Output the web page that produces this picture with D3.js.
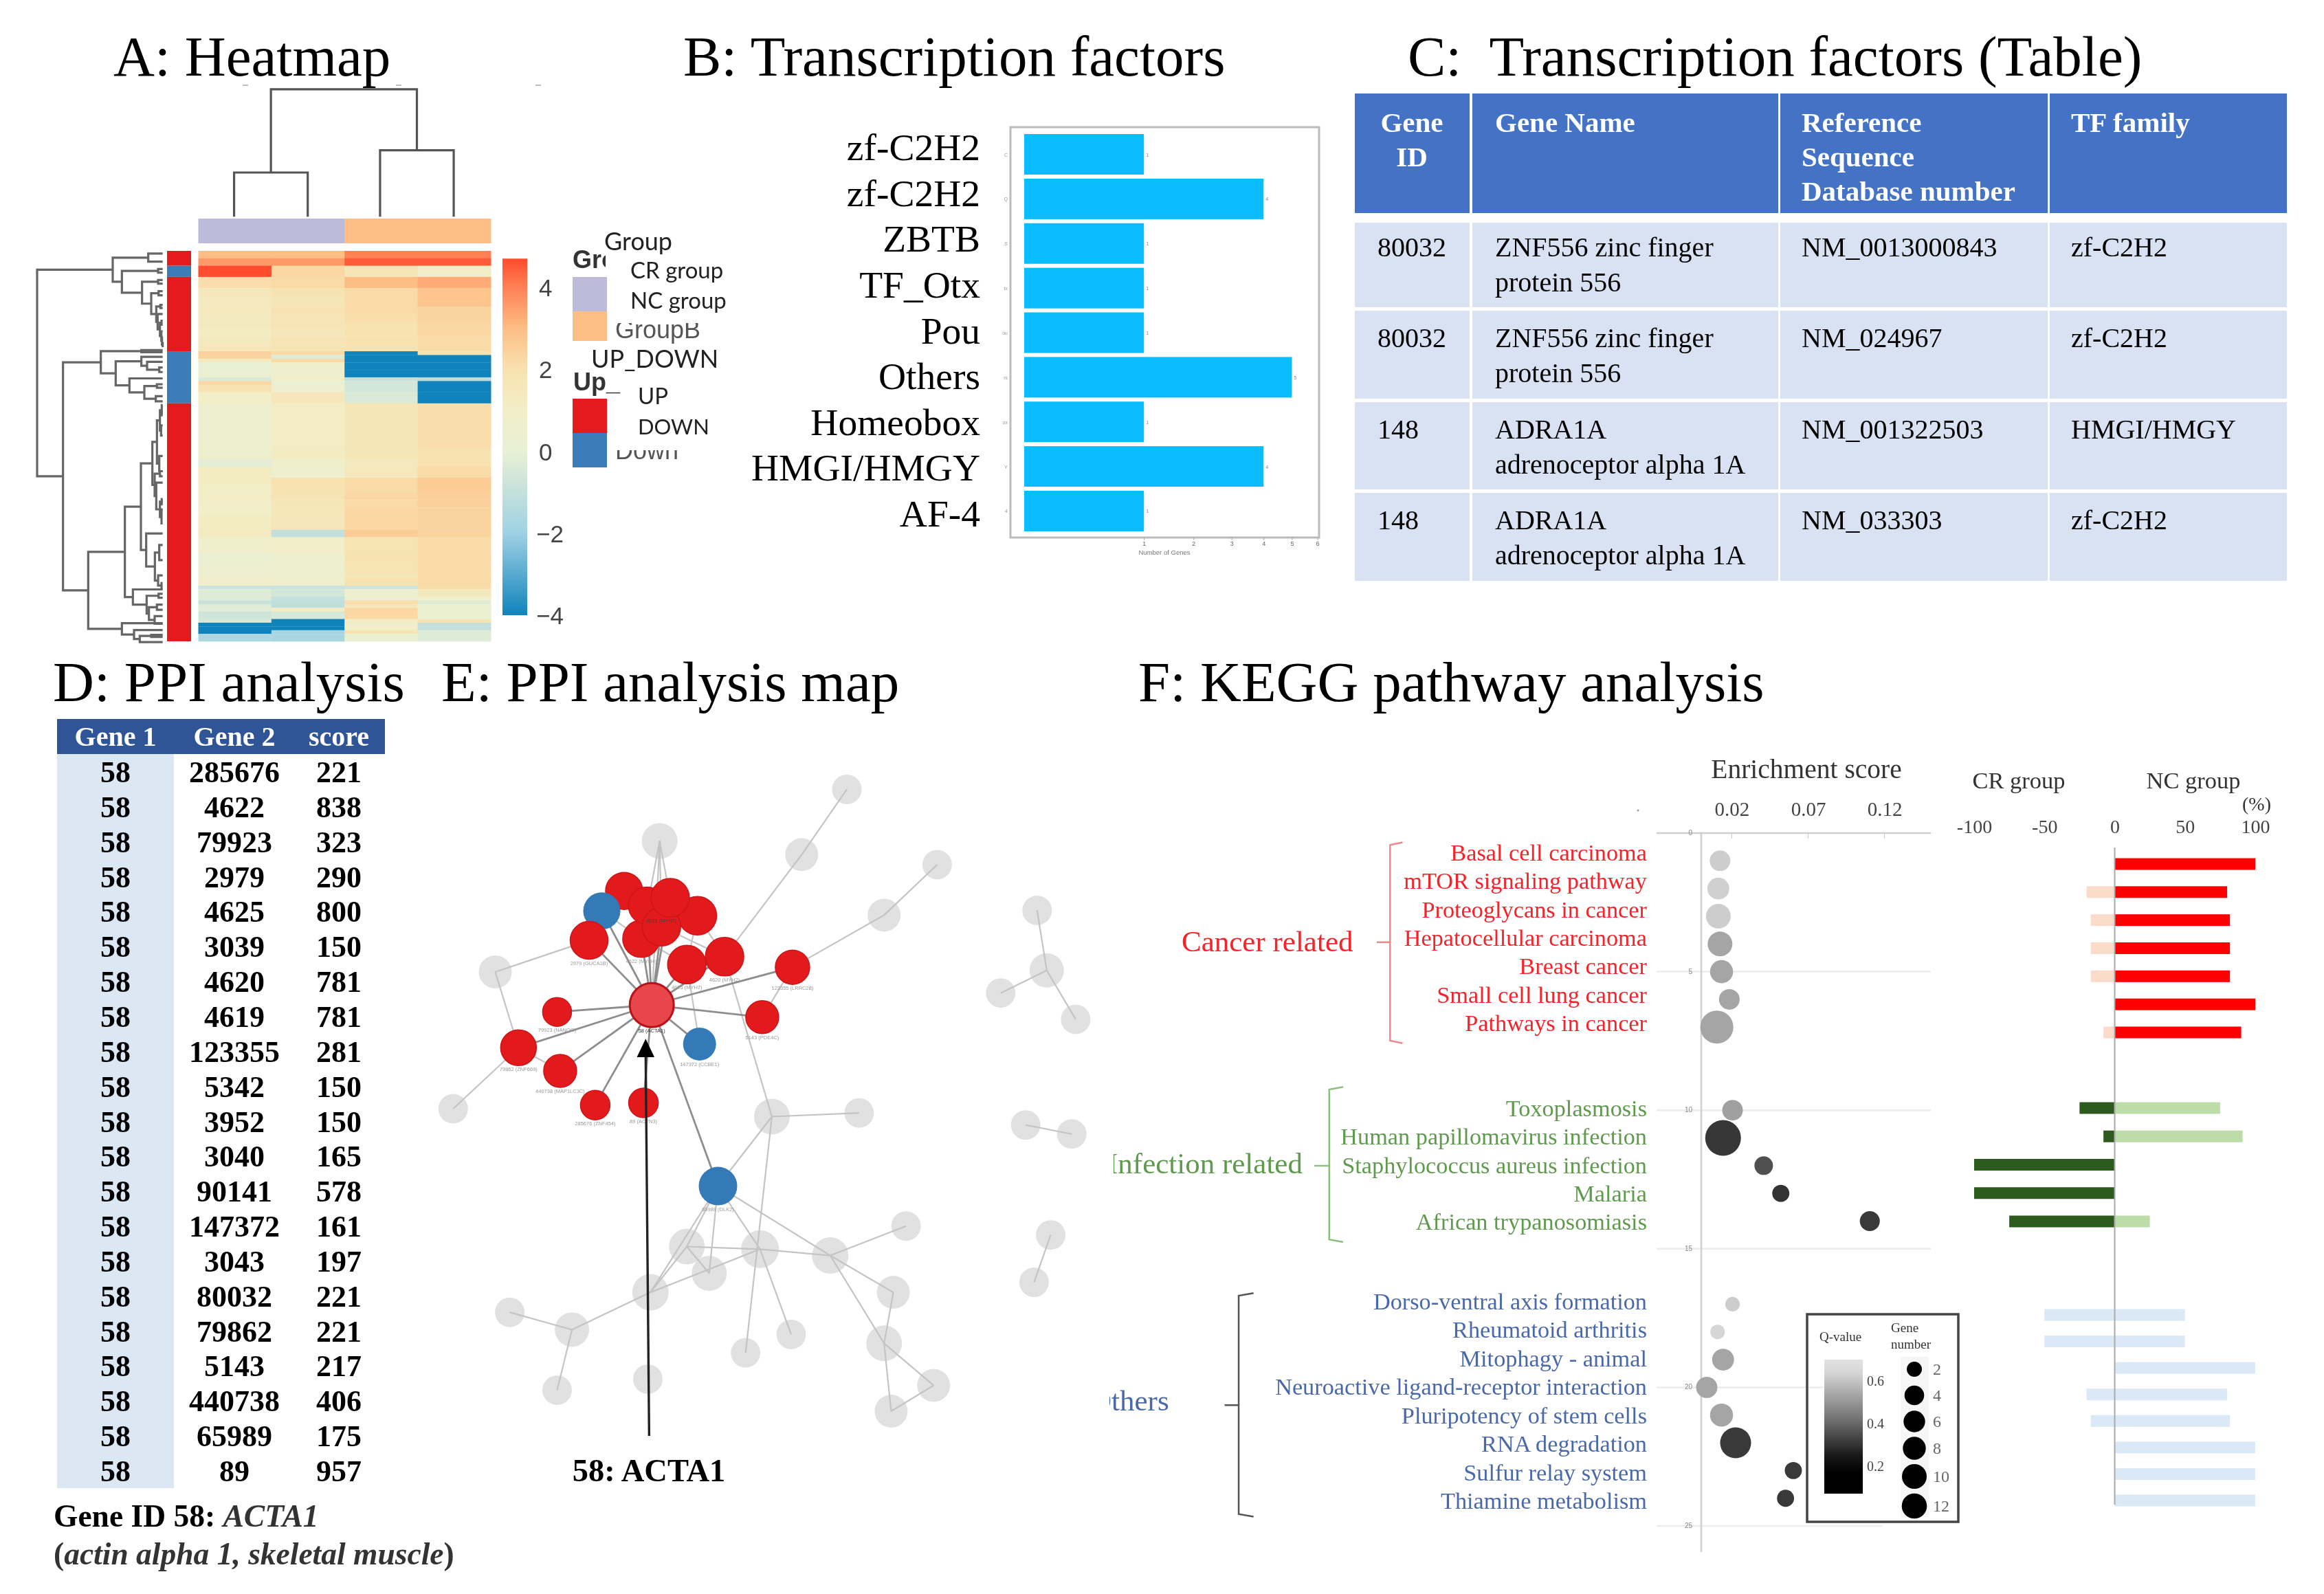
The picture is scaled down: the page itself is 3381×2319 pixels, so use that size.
<!DOCTYPE html>
<html><head><meta charset="utf-8">
<script src="https://cdn.jsdelivr.net/npm/d3@7"></script>
<style>html,body{margin:0;background:#fff}svg{display:block;filter:blur(0.6px)}text{white-space:pre}</style>
</head><body><svg id="c" width="3381" height="2319" xmlns="http://www.w3.org/2000/svg"></svg>
<script>
const SERIF='"Liberation Serif","Times New Roman",serif', SANS='"Liberation Sans",Arial,sans-serif', LATO='Lato,"Noto Sans",sans-serif';
// ---------- titles
const titles=[["A: Heatmap",165],["B: Transcription factors",994],["C:  Transcription factors (Table)",2048]];
const titles2=[["D: PPI analysis",77],["E: PPI analysis map",642],["F: KEGG pathway analysis",1656]];
// ---------- A heatmap: [rows spanned, col1, col2, col3, col4]
const heatRows=[[2,3.0,3.0,4.0,4.0],[2,3.6,3.6,4.5,4.5],[3,4.7,2.3,1.7,1.0],[3,2.1,2.2,3.0,3.3],[2,1.6,1.9,2.2,2.8],[3,1.4,1.7,2.2,2.8],
[2,1.5,1.9,2.2,2.4],[2,1.3,1.7,2.1,2.4],[2,1.4,1.8,2.0,2.3],[2,1.2,1.6,2.0,2.3],[2,1.4,1.8,2.0,2.2],[2,1.6,1.8,2.0,2.2],
[1,2.5,2.2,-4,2.0],[1,2.4,-0.3,-4,-4],[1,1.3,2.2,-4,-4],[2,0.1,0.8,-4,-4],[2,0.3,0.5,-4,-4],[1,-0.4,1.0,-1.0,-1.2],[1,2.3,0.0,-0.6,-4],[2,1.9,0.4,-0.6,-4],[3,1.0,1.6,-0.4,-4],
[12,0.5,1.1,1.7,2.1],[3,0.6,1.2,1.7,2.0],[2,-0.1,0.7,1.4,2.0],[3,1.2,0.6,1.5,2.2],
[2,1.2,2.0,2.2,2.6],[2,1.0,1.9,2.2,2.6],[2,1.1,1.8,2.3,2.5],[2,0.9,1.7,2.2,2.5],[2,1.0,1.7,2.3,2.4],[4,1.2,1.6,2.3,2.4],
[2,1.3,-1.0,2.6,2.4],[4,0.8,0.9,1.8,2.2],[3,0.3,0.6,1.9,2.2],[3,0.4,0.5,1.8,2.2],[1,0.5,0.5,1.6,2.2],[2,0.9,0.7,2.0,2.2],[1,-0.8,-0.8,-0.7,2.1],[2,-0.3,-0.6,0.5,1.4],
[1,-0.3,-1.0,0.4,1.0],[1,-0.9,-1.1,2.1,-0.3],[1,-0.3,-1.1,1.6,0.2],[1,-0.2,1.1,2.3,0.3],[2,-0.7,-0.5,2.3,0.2],[1,-0.5,-4,1.1,1.8],[1,-4,-4,0.8,-1.0],[1,-4,-4,0.9,-1.0],[1,-4,-1.8,1.8,-0.3],[2,-1.6,-1.7,0.3,-0.3]];
const rowSides=[[4,"UP"],[3,"DOWN"],[20,"UP"],[14,"DOWN"],[64,"UP"]];
const columnGroups=["CR","CR","NC","NC"];
const heatTicks=[4,2,0,-2,-4];
const colTree=[212,[410,534,702],[357,867,1035]];
const treeTop=[372,[527,24,56],[412,[570,85,99],[500,[570,128,142],[540,[572,172,188],[562,[580,226,238],[568,262,[578,[585,288,304],[584,330,[587,352,[590,372,392]]]]]]]]]];
const treeDown=[320,[497,404,412],[385,[497,430,[522,450,[575,472,490]]],[445,515,[510,[565,538,552],[560,585,605]]]]];
const treeUpA=[495,[545,[565,[578,[586,620,660],[583,700,740]],[575,820,880]],[555,[578,880,900],[562,925,[570,[578,[586,990,1010],[585,1035,1085]],1030]]]],[518,1125,[556,[575,1170,1230],[570,1290,[585,1320,1340]]]]];
const treeUpB=[460,1345,[520,[572,1362,1378],[530,[565,1405,1425],[555,1450,1480]]]];
const treeUpC=[412,1478,[465,1505,[490,[540,1524,1532],1552]]];
const rowTree=[42,treeTop,[155,treeDown,[265,[425,treeUpA,treeUpB],treeUpC]]];
// ---------- B bars
const tfNames=["zf-C2H2","zf-C2H2","ZBTB","TF_Otx","Pou","Others","Homeobox","HMGI/HMGY","AF-4"];
const tfCounts=[1,4,1,1,1,5,1,4,1];
const tfShort=["C","Q","S","tx","ou","rs","ox","Y","4"];
const tfTicks=[1,2,3,4,5,6];
// ---------- C table
const tableHead=[["Gene","ID"],["Gene Name"],["Reference","Sequence","Database number"],["TF family"]];
const tableRows=[[["80032"],["ZNF556 zinc finger","protein 556"],["NM_0013000843"],["zf-C2H2"]],
[["80032"],["ZNF556 zinc finger","protein 556"],["NM_024967"],["zf-C2H2"]],
[["148"],["ADRA1A","adrenoceptor alpha 1A"],["NM_001322503"],["HMGI/HMGY"]],
[["148"],["ADRA1A","adrenoceptor alpha 1A"],["NM_033303"],["zf-C2H2"]]];
// ---------- D table
const ppiHead=["Gene 1","Gene 2","score"];
const ppiGene2=[285676,4622,79923,2979,4625,3039,4620,4619,123355,5342,3952,3040,90141,147372,3043,80032,79862,5143,440738,65989,89];
const ppiScore=[221,838,323,290,800,150,781,781,281,150,150,165,578,161,197,221,221,217,406,175,957];
// ---------- E network (layout units)
const grayNodes=[["g1",991,194,21.5],["g2",564,292,26],["g3",888,318,24],["g4",1197,337,21.5],["g5",1076,433,24],["g6",1425,424,21.5],["g7",1447,538,25],["g8",1342,581,21.5],["g9",1513,631,21.5],["g10",189,541,24],["g11",93,801,21.5],["g12",820,816,26],["g13",1019,809,21.5],["g14",1399,832,21.5],["g15",1504,849,21.5],["g16",1126,1024,21.5],["g17",1456,1041,21.5],["g18",1418,1131,21.5],["g19",626,1063,26],["g20",793,1068,27.5],["g21",953,1080,26.5],["g22",677,1114,25.5],["g23",1097,1150,24],["g24",543,1150,26.5],["g25",222,1188,21.5],["g26",364,1221,25],["g27",1076,1247,26],["g28",864,1230,21.5],["g29",760,1265,21.5],["g30",537,1315,21.5],["g31",330,1336,21.5],["g32",1189,1327,24],["g33",1092,1376,24]];
const colorNodes=[["r1",483,387,27,"up"],["b1",432,425,27,"down"],["r7",403,481,27.5,"up"],["r5",522,478,27,"up"],["r2",535,415,27,"up"],["r4",650,434,28,"up"],["r6",568,455,28,"up"],["r3",588,400,28,"up"],["r9",712,512,28,"up"],["r8",626,527,28,"up"],["r10",867,532,25,"up"],["r11",330,617,21,"up"],["r12",798,627,24,"up"],["r13",242,685,26,"up"],["r14",337,729,24,"up"],["r15",417,794,21.5,"up"],["r16",527,790,21.5,"up"],["b2",655,678,24,"down"],["b3",697,948,28,"down"]];
const hubNode=["hub",546,604,32];
const grayLinks=[["g1","g3"],["g3","r9"],["g4","g5"],["g5","r10"],["g2","r5"],["g2","r6"],["g2","r3"],["g2","hub"],["g10","r7"],["g10","r13"],["r13","g11"],["r13","r14"],["r9","g12"],["g12","g13"],["g12","b3"],["g12","g29"],["r8","b2"],["r10","r12"],["b3","g19"],["b3","g22"],["b3","g20"],["b3","g21"],["b3","g24"],["g19","g20"],["g19","g22"],["g20","g21"],["g20","g24"],["g20","g28"],["g24","g26"],["g26","g25"],["g26","g31"],["g21","g16"],["g21","g23"],["g21","g27"],["g23","g27"],["g27","g32"],["g27","g33"],["g32","g33"],["g6","g7"],["g7","g8"],["g7","g9"],["g14","g15"],["g17","g18"],["g19","g24"],["b1","r7"],["b1","r2"],["b1","r5"],["r5","r8"],["r4","r8"],["r4","r9"],["r6","r9"]];
const hubLinks=["r5","r2","r6","r3","b1","r7","r8","r9","r10","r11","r12","r13","r14","r15","r16","b2","b3"];
const netLabels=[["hub","58 (ACTA1)"],["r7","2979 (GUCA1B)"],["r5","4622 (MYH4)"],["r8","4625 (MYH7)"],["r9","4620 (MYH2)"],["r10","123355 (LRRC28)"],["r11","79923 (NANOG)"],["r12","5143 (PDE4C)"],["r13","79862 (ZNF669)"],["r14","440738 (MAP1LC3C)"],["r15","285676 (ZNF454)"],["r16","89 (ACTN3)"],["b2","147372 (CCBE1)"],["b3","65989 (DLK2)"]];
// ---------- F KEGG
const pwCancer=["Basal cell carcinoma","mTOR signaling pathway","Proteoglycans in cancer","Hepatocellular carcinoma","Breast cancer","Small cell lung cancer","Pathways in cancer"];
const pwInfect=["Toxoplasmosis","Human papillomavirus infection","Staphylococcus aureus infection","Malaria","African trypanosomiasis"];
const pwOther=["Dorso-ventral axis formation","Rheumatoid arthritis","Mitophagy - animal","Neuroactive ligand-receptor interaction","Pluripotency of stem cells","RNA degradation","Sulfur relay system","Thiamine metabolism"];
const rowCancer=[1,2,3,4,5,6,7], rowInfect=[10,11,12,13,14], rowOther=[17,18,19,20,21,22,23,24];
const enrichCancer=[.0123,.0112,.0112,.0123,.0133,.0184,.0102], enrichInfect=[.0205,.0143,.0409,.0521,.1104], enrichOther=[.0205,.0107,.0143,.0036,.0133,.0225,.0603,.0552];
const genesCancer=[8,9,11.5,11.5,10,8,20.5], genesInfect=[8,24,6.5,5.5,7.5], genesOther=[4,4,9,8.5,10,18,5.5,5.5];
const qCancer=[.63,.64,.63,.53,.53,.53,.53], qInfect=[.52,.28,.34,.27,.285], qOther=[.63,.66,.53,.53,.53,.285,.285,.285];
const nrCancer=[100,80,82,82,82,100,90], crCancer=[0,-20,-17,-17,-17,0,-8];
const nrInfect=[75,91,0,0,25], crInfect=[-25,-8,-100,-100,-75];
const nrOther=[50,50,100,80,82,100,100,100], crOther=[-50,-50,0,-20,-17,0,0,0];
const enrichTicks=[.02,.07,.12], rowTicks=[0,5,10,15,20,25], pctTicks=[-100,-50,0,50,100];
const qTicks=[.6,.4,.2], geneLegend=[2,4,6,8,10,12];

const svg=d3.select("#c");
const T=(g,s,x,y,size,opt={})=>{const t=g.append("text").text(s).attr("x",x).attr("y",y).attr("font-size",size).attr("font-family",opt.f||SERIF).attr("fill",opt.c||"#000");
 if(opt.a)t.attr("text-anchor",opt.a);if(opt.w)t.attr("font-weight",opt.w);if(opt.i)t.attr("font-style","italic");if(opt.clip)t.attr("clip-path",`url(#${opt.clip})`);return t;};
titles.forEach(d=>T(svg,d[0],d[1],110,83));
titles2.forEach(d=>T(svg,d[0],d[1],1020,83));
const defs=svg.append("defs");
const clip=(id,x,y,w,h)=>defs.append("clipPath").attr("id",id).append("rect").attr("x",x).attr("y",y).attr("width",w).attr("height",h);

// tree drawing: nodes are [height,a,b], leaves are positions
function treeSegs(node,leafH,out){ if(typeof node==="number")return node;
 const a=treeSegs(node[1],leafH,out), b=treeSegs(node[2],leafH,out);
 const ha=typeof node[1]==="number"?leafH:node[1][0], hb=typeof node[2]==="number"?leafH:node[2][0];
 out.push({h:node[0],a,b,ha,hb}); return (a+b)/2;}

// ===== A
(function(){const g=svg.append("g");
 const total=d3.sum(heatRows,d=>d[0]);
 const x=d3.scaleBand().domain(d3.range(4)).range([288.5,714]);
 const y=d3.scaleLinear().domain([0,total]).range([365,933]);
 const color=d3.scaleLinear().domain([-4,-2,-0.7,0,1,2,3,4,4.7]).range(["#1083bc","#9fd1e4","#cfe5d9","#e8f0d5","#f2eec8","#f8e2b0","#fdbe85","#ff8055","#ff4b2e"]);
 let k=0;
 heatRows.forEach(r=>{const top=k;k+=r[0];
  g.selectAll(null).data(r.slice(1)).join("rect").attr("x",(d,i)=>x(i)).attr("width",x.bandwidth()+.5).attr("y",y(top)).attr("height",y(k)-y(top)+.3).attr("fill",d=>color(d));});
 // row side
 k=0;rowSides.forEach(s=>{const t=k;k+=s[0];g.append("rect").attr("x",243).attr("width",35).attr("y",y(t)).attr("height",y(k)-y(t)).attr("fill",s[1]==="UP"?"#e41a1c":"#3b7cb8");});
 // column annotation
 g.selectAll(null).data(columnGroups).join("rect").attr("x",(d,i)=>x(i)).attr("width",x.bandwidth()+.5).attr("y",318).attr("height",36).attr("fill",d=>d==="CR"?"#bebada":"#fdbf85");
 // dendrograms
 const dx=d3.scaleLinear().domain([0,630]).range([40,250]), dy=d3.scaleLinear().domain([0,1568]).range([360,940]);
 let segs=[];treeSegs(rowTree,590,segs);
 g.append("g").attr("fill","none").attr("stroke","#666").attr("stroke-width",3.2).selectAll("path").data(segs).join("path")
  .attr("d",s=>`M${dx(s.ha)},${dy(s.a)}H${dx(s.h)}V${dy(s.b)}H${dx(s.hb)}`);
 const tx=d3.scaleLinear().domain([0,1568]).range([0,1000]), ty=d3.scaleLinear().domain([0,1568]).range([0,960]);
 segs=[];treeSegs(colTree,515,segs);
 g.append("g").attr("fill","none").attr("stroke","#555").attr("stroke-width",3.2).selectAll("path").data(segs).join("path")
  .attr("d",s=>`M${tx(s.a)},${ty(s.ha)}V${ty(s.h)}H${tx(s.b)}V${ty(s.hb)}`);
 // stray marks left above the dendrogram in the source figure
 [357,580,783].forEach(m=>g.append("line").attr("x1",m-4).attr("x2",m+4).attr("y1",124).attr("y2",124).attr("stroke","#aaa").attr("stroke-width",1.5));
 // colour bar
 const cy=d3.scaleLinear().domain([-4,4]).range([895,418]);
 const grad=defs.append("linearGradient").attr("id","heatGrad").attr("x1",0).attr("x2",0).attr("y1",1).attr("y2",0);
 color.domain().forEach(v=>grad.append("stop").attr("offset",(v+4)/8.7).attr("stop-color",color(v)));
 g.append("rect").attr("x",731).attr("width",36).attr("y",cy(4.7)).attr("height",cy(-4)-cy(4.7)).attr("fill","url(#heatGrad)");
 heatTicks.forEach(v=>T(g,String(v).replace("-","\u2212"),v<0?780:784,cy(v)+13,35,{f:SANS,c:"#444"}));
 // legend
 clip("clipGro",833,350,48,50);clip("clipGB",880,470,160,30);clip("clipDown",880,655,120,20);
 T(g,"Gro",833,390,36,{f:SANS,w:"bold",c:"#333",clip:"clipGro"});
 T(g,"GroupB",895,492,36,{f:SANS,c:"#555",clip:"clipGB"});
 T(g,"Down",895,668,36,{f:SANS,c:"#555",clip:"clipDown"});
 T(g,"Up_",834,568,36,{f:SANS,w:"bold",c:"#333"});
 [["#bebada",403,50],["#fdbf85",453,43],["#e41a1c",580,50],["#3b7cb8",630,50]].forEach(s=>g.append("rect").attr("x",833).attr("width",50).attr("y",s[1]).attr("height",s[2]).attr("fill",s[0]));
 T(g,"Group",879,364,36,{f:LATO,c:"#222"});T(g,"CR group",917,405,33,{f:LATO,c:"#222"});T(g,"NC group",917,449,33,{f:LATO,c:"#222"});
 T(g,"UP_DOWN",860,535,36,{f:LATO,c:"#222"});T(g,"UP",928,588,33,{f:LATO,c:"#222"});T(g,"DOWN",928,632,31,{f:LATO,c:"#222"});
})();

// ===== B
(function(){const g=svg.append("g");
 const y=d3.scaleBand().domain(d3.range(tfNames.length)).range([195,773]).paddingInner(.09);
 const labelY=d3.scaleLinear().domain([0,tfNames.length-1]).range([233,766]);
 const x=d3.scaleSqrt().domain([0,6]).range([1490,1916.6]);
 g.append("rect").attr("x",1470).attr("y",185).attr("width",449).attr("height",597).attr("fill","none").attr("stroke","#bbb").attr("stroke-width",3);
 g.selectAll(null).data(tfCounts).join("rect").attr("x",x(0)).attr("y",(d,i)=>y(i)).attr("width",d=>x(d)-x(0)).attr("height",y.bandwidth()).attr("fill","#0abdff");
 tfNames.forEach((n,i)=>{const c=y(i)+y.bandwidth()/2;
  T(g,n,1426,labelY(i),55.5,{a:"end"});
  T(g,tfShort[i],1466,c+3,7,{a:"end",f:SANS,c:"#999"});
  T(g,String(tfCounts[i]),x(tfCounts[i])+3,c+3,7,{f:SANS,c:"#888"});});
 const ax=g.append("g").attr("transform","translate(0,782)").call(d3.axisBottom(x).tickValues(tfTicks).tickSize(4).tickFormat(d3.format("d")));
 ax.select(".domain").remove();ax.selectAll("line").attr("stroke","#aaa");ax.selectAll("text").attr("font-size",9).attr("font-family",SANS).attr("fill","#666").attr("dy",".6em");
 T(g,"Number of Genes",1694,807,9.5,{a:"middle",f:SANS,c:"#777"});
})();

// ===== C
(function(){const g=svg.append("g");
 const colL=[1971,2142,2590,2982], colR=[2138,2587,2979,3327], textX=[2004,2175,2621,3013];
 const rowTop=[324,452,585,717], rowBot=[447,580,712,845], firstBase=[373,505,638,770];
 colL.forEach((l,c)=>{g.append("rect").attr("x",l).attr("y",136).attr("width",colR[c]-l).attr("height",174).attr("fill","#4472c4");
  tableHead[c].forEach((s,i)=>T(g,s,c===0?2054:textX[c],192+i*50,41,{w:"bold",c:"#fff",a:c===0?"middle":null}));
  rowTop.forEach((t,r)=>{g.append("rect").attr("x",l).attr("y",t).attr("width",colR[c]-l).attr("height",rowBot[r]-t).attr("fill","#d9e2f3");
   tableRows[r][c].forEach((s,i)=>T(g,s,textX[c],firstBase[r]+i*51,40));});});
})();

// ===== D
(function(){const g=svg.append("g");
 const y=d3.scaleLinear().domain([0,20]).range([1138,2155]);
 const cx=[168,341,493];
 g.append("rect").attr("x",83).attr("y",1046).attr("width",477).attr("height",51).attr("fill","#2f5597");
 g.append("rect").attr("x",83).attr("y",1097).attr("width",170).attr("height",1068).attr("fill","#dce7f4");
 ppiHead.forEach((s,i)=>T(g,s,cx[i],1085,40,{w:"bold",c:"#fff",a:"middle"}));
 ppiGene2.forEach((v,i)=>{T(g,"58",cx[0],y(i),44,{w:"bold",a:"middle"});T(g,String(v),cx[1],y(i),44,{w:"bold",a:"middle"});T(g,String(ppiScore[i]),cx[2],y(i),44,{w:"bold",a:"middle"});});
 const t=T(g,"Gene ID 58: ",78,2221,45.5,{w:"bold"});
 t.append("tspan").text("ACTA1").attr("font-style","italic").attr("fill","#333");
 const t2=T(g,"(",78,2276,45.5,{w:"bold",c:"#333"});
 t2.append("tspan").text("actin alpha 1, skeletal muscle").attr("font-style","italic");
 t2.append("tspan").text(")");
})();

// ===== E
(function(){const g=svg.append("g");
 const x=d3.scaleLinear().domain([0,1568]).range([600,1600]), y=d3.scaleLinear().domain([0,1568]).range([1000,2200]);
 const byId=new Map();[...grayNodes,...colorNodes,hubNode].forEach(n=>byId.set(n[0],n));
 g.selectAll(null).data(grayNodes).join("circle").attr("cx",d=>x(d[1])).attr("cy",d=>y(d[2])).attr("r",d=>d[3]).attr("fill","#e1e1e1");
 g.selectAll(null).data(grayLinks).join("line").attr("x1",d=>x(byId.get(d[0])[1])).attr("y1",d=>y(byId.get(d[0])[2])).attr("x2",d=>x(byId.get(d[1])[1])).attr("y2",d=>y(byId.get(d[1])[2])).attr("stroke","#c4c4c4").attr("stroke-width",2.2);
 g.selectAll(null).data(hubLinks).join("line").attr("x1",x(hubNode[1])).attr("y1",y(hubNode[2])).attr("x2",d=>x(byId.get(d)[1])).attr("y2",d=>y(byId.get(d)[2])).attr("stroke","#8e8e8e").attr("stroke-width",2.8);
 g.selectAll(null).data(colorNodes).join("circle").attr("cx",d=>x(d[1])).attr("cy",d=>y(d[2])).attr("r",d=>d[3]).attr("fill",d=>d[4]==="up"?"#e31a1c":"#337ab7").attr("stroke",d=>d[4]==="up"?"#cc1518":"none").attr("stroke-width",1.5);
 g.append("circle").attr("cx",x(hubNode[1])).attr("cy",y(hubNode[2])).attr("r",hubNode[3]).attr("fill","#e8464a").attr("stroke","#b5121a").attr("stroke-width",3);
 netLabels.forEach(l=>{const n=byId.get(l[0]);T(g,l[1],x(n[1]),y(n[2])+n[3]+8,7.5,{a:"middle",f:SANS,c:l[0]==="hub"?"#333":"#999"});});
 T(g,"4625 (MYH7)",x(568),y(447),7.5,{a:"middle",f:SANS,c:"#444"});
 // arrow
 g.append("line").attr("x1",x(540)).attr("y1",y(1423)).attr("x2",x(532)).attr("y2",y(695)).attr("stroke","#222").attr("stroke-width",3.4);
 g.append("path").attr("d",`M${x(532)},${y(668)}L${x(552)},${y(703)}L${x(512)},${y(703)}Z`).attr("fill","#000");
 T(g,"58: ACTA1",944,2155,46.5,{w:"bold",a:"middle"});
})();

// ===== F
(function(){const g=svg.append("g");
 const RED="#f5232a", GREEN="#5f9a4e", BLUE="#4a69ab";
 const x=d3.scaleLinear().domain([0,.14]).range([2475,2786]);
 const y=d3.scaleLinear().domain([0,25]).range([1212,2220]);
 const r=d3.scaleSqrt().domain([0,24]).range([0,26]);
 const q=d3.scaleLinear().domain([.07,.25,.4,.6,.7]).range(["#000","#2a2a2a","#6a6a6a","#c4c4c4","#e2e2e2"]);
 const bx=d3.scaleLinear().domain([-100,100]).range([2872,3281]);
 // grid
 rowTicks.forEach(v=>{const end=v===20?2653:v===25?2738:2809;
  g.append("line").attr("x1",2410).attr("x2",end).attr("y1",y(v)).attr("y2",y(v)).attr("stroke",v===0?"#cfcfcf":"#ececec").attr("stroke-width",2.5);
  T(g,String(v),2462,y(v)+3,10,{a:"end",f:SANS,c:"#888"});});
 g.append("line").attr("x1",2475).attr("x2",2475).attr("y1",1212).attr("y2",2258).attr("stroke","#d0d0d0").attr("stroke-width",2.5);
 g.append("circle").attr("cx",2383).attr("cy",1179).attr("r",1.5).attr("fill","#999");
 // axes
 const ax=g.append("g").attr("transform","translate(0,1190)").call(d3.axisTop(x).tickValues(enrichTicks).tickSize(0).tickFormat(d3.format(".2f")));
 ax.select(".domain").remove();ax.selectAll("text").attr("font-size",29).attr("font-family",SERIF).attr("fill","#444");
 enrichTicks.forEach(v=>g.append("line").attr("x1",x(v)).attr("x2",x(v)).attr("y1",1212).attr("y2",1220).attr("stroke","#ccc"));
 T(g,"Enrichment score",2628,1132,39.5,{a:"middle",c:"#333"});
 const bax=g.append("g").attr("transform","translate(0,1215)").call(d3.axisTop(bx).tickValues(pctTicks).tickSize(0).tickFormat(d=>String(d)));
 bax.select(".domain").remove();bax.selectAll("text").attr("font-size",28).attr("font-family",SERIF).attr("fill","#444");
 T(g,"CR group",2937,1147,34.5,{a:"middle",c:"#333"});T(g,"NC group",3191,1147,34.5,{a:"middle",c:"#333"});T(g,"(%)",3283,1179,28,{a:"middle",c:"#333"});
 // groups
 const groups=[
  {n:pwCancer,rows:rowCancer,e:enrichCancer,gn:genesCancer,q:qCancer,nr:nrCancer,cr:crCancer,c:RED,lab:[1252,1500],bar:[1257,1502],nc:"#ff0000",crc:"#fbdccb"},
  {n:pwInfect,rows:rowInfect,e:enrichInfect,gn:genesInfect,q:qInfect,nr:nrInfect,cr:crInfect,c:GREEN,lab:[1624,1789],bar:[1612,1777],nc:"#bcdca8",crc:"#2d5a1e"},
  {n:pwOther,rows:rowOther,e:enrichOther,gn:genesOther,q:qOther,nr:nrOther,cr:crOther,c:BLUE,lab:[1905,2195],bar:[1913,2183],nc:"#dbe8f5",crc:"#dbe8f5"}];
 groups.forEach(G=>{
  const ly=d3.scaleLinear().domain([0,G.n.length-1]).range(G.lab), by=d3.scaleLinear().domain([0,G.n.length-1]).range(G.bar);
  G.n.forEach((s,i)=>{T(g,s,2396,ly(i),34.3,{a:"end",c:G.c});});
  g.selectAll(null).data(G.e).join("circle").attr("cx",d=>x(d)).attr("cy",(d,i)=>y(G.rows[i])).attr("r",(d,i)=>r(G.gn[i])).attr("fill",(d,i)=>q(G.q[i]));
  g.selectAll(null).data(G.cr).join("rect").attr("x",d=>bx(d)).attr("width",d=>bx(0)-bx(d)).attr("y",(d,i)=>by(i)-8.5).attr("height",17).attr("fill",G.crc);
  g.selectAll(null).data(G.nr).join("rect").attr("x",bx(0)).attr("width",d=>bx(d)-bx(0)).attr("y",(d,i)=>by(i)-8.5).attr("height",17).attr("fill",G.nc);
 });
 g.append("line").attr("x1",bx(0)).attr("x2",bx(0)).attr("y1",1233).attr("y2",2189).attr("stroke","#aaa").attr("stroke-width",2);
 // group labels and braces
 clip("clipInf",1620,1660,320,70);clip("clipOth",1614,2010,120,60);
 T(g,"Cancer related",1719,1384,43,{c:RED});
 T(g,"Infection related",1612,1707,43,{c:GREEN,clip:"clipInf"});
 T(g,"Others",1586,2052,43,{c:BLUE,clip:"clipOth"});
 const bp=d3.scaleLinear().domain([0,1568]).range([1600,3380]), bq=d3.scaleLinear().domain([0,1568]).range([1080,2280]);
 [[388,372,190,572,355,380,"#f08a8a"],[312,294,655,950,275,805,"#8fbf7f"],[197,178,1047,1472,160,1260,"#555"]].forEach(b=>{
  g.append("path").attr("fill","none").attr("stroke",b[6]).attr("stroke-width",2.5)
   .attr("d",`M${bp(b[0])},${bq(b[2])}L${bp(b[1])},${bq(b[2]+5)}V${bq(b[3]-5)}L${bp(b[0])},${bq(b[3])}M${bp(b[4])},${bq(b[5])}H${bp(b[1])}`);});
 // legend
 const lg=g.append("g");
 lg.append("rect").attr("x",2629).attr("y",1912).attr("width",220).attr("height",302).attr("fill","none").attr("stroke","#444").attr("stroke-width",3.5);
 T(lg,"Q-value",2647,1951,19,{c:"#333"});T(lg,"Gene",2751,1938,19,{c:"#333"});T(lg,"number",2751,1962,19,{c:"#333"});
 const qy=d3.scaleLinear().domain([.6,.2]).range([2010,2134]);
 const gr=defs.append("linearGradient").attr("id","qGrad").attr("x1",0).attr("x2",0).attr("y1",0).attr("y2",1);
 [[0,"#e2e2e2"],[.1,"#d5d5d5"],[.45,"#707070"],[.72,"#181818"],[.85,"#000"],[1,"#000"]].forEach(s=>gr.append("stop").attr("offset",s[0]).attr("stop-color",s[1]));
 lg.append("rect").attr("x",2654).attr("y",1978).attr("width",56).attr("height",195).attr("fill","url(#qGrad)");
 qTicks.forEach(v=>T(lg,d3.format(".1f")(v),2716,qy(v)+6,20,{c:"#444"}));
 const lr=d3.scaleOrdinal().domain(geneLegend).range([11,14.3,15.7,16.7,18,18.3]);
 const ldy=d3.scaleOrdinal().domain(geneLegend).range([1992,2030,2068,2107,2148,2191]);
 lg.append("rect").attr("x",2765).attr("y",1974).attr("width",41).attr("height",234).attr("fill","#f6f6f6");
 geneLegend.forEach(v=>{lg.append("circle").attr("cx",2785).attr("cy",ldy(v)).attr("r",lr(v)).attr("fill","#000");
  T(lg,String(v),2812,ldy(v)+8,24,{f:SERIF,c:"#666"});});
})();
</script></body></html>
